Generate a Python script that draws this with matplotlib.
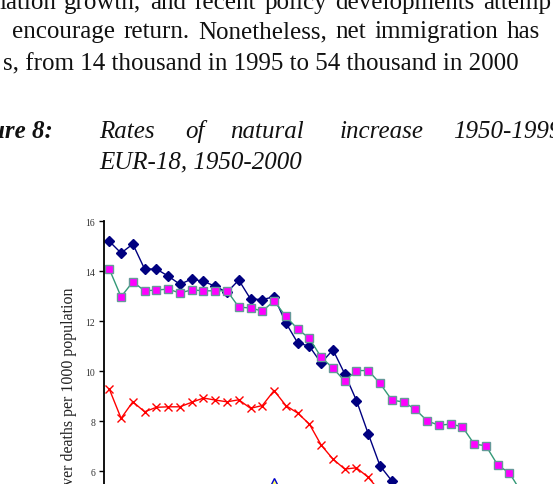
import matplotlib
matplotlib.use("Agg")
import matplotlib.pyplot as plt
import numpy as np

W, H = 553, 485

# rates per 1000 population (points below the crop are estimates)
years_navy = list(range(1950, 1976))
navy = [15.2, 14.73, 15.09, 14.09, 14.09, 13.81, 13.48, 13.69, 13.6, 13.4,
        13.16, 13.65, 12.89, 12.87, 12.98, 11.94, 11.14, 11.0, 10.33, 10.86,
        9.9, 8.83, 7.5, 6.22, 5.62, 4.9]

years_pink = list(range(1950, 1986))
pink = [14.09, 12.98, 13.58, 13.22, 13.25, 13.29, 13.13, 13.26, 13.22, 13.22,
        13.22, 12.57, 12.53, 12.41, 12.81, 12.2, 11.69, 11.32, 10.56, 10.13,
        9.61, 10.03, 10.03, 9.52, 8.85, 8.77, 8.48, 8.02, 7.84, 7.89,
        7.78, 7.09, 7.02, 6.25, 5.93, 5.17]

years_red = list(range(1950, 1974))
red = [9.29, 8.12, 8.78, 8.38, 8.56, 8.58, 8.58, 8.76, 8.93, 8.85,
       8.78, 8.86, 8.52, 8.63, 9.23, 8.63, 8.33, 7.89, 7.05, 6.49,
       6.09, 6.14, 5.76, 5.2]

years_tri = [1963, 1964, 1965, np.nan, 1987, 1988, 1989]
tri = [4.8, 5.53, 4.8, np.nan, 4.9, 5.45, 4.9]

y_ticks = [0, 2, 4, 6, 8, 10, 12, 14, 16]

plt.rcParams['font.family'] = ['Liberation Serif', 'DejaVu Serif']

fig = plt.figure(figsize=(W / 100, H / 100), dpi=100)
renderer = fig.canvas.get_renderer()

def fx(x):
    return x / W

def fy(y):
    return 1 - y / H

body = 18
ink = '#111111'

def justify(words, x_start, x_end, y, **kw):
    # place words so the line runs from x_start to x_end (like a justified paragraph)
    texts = [fig.text(0, fy(y), w, fontsize=body, color=ink, **kw) for w in words]
    widths = [t.get_window_extent(renderer).width for t in texts]
    gap = (x_end - x_start - sum(widths)) / (len(words) - 1)
    gap = max(gap, 0.25 * body * 100 / 72)
    x = x_start
    for t, w in zip(texts, widths):
        t.set_x(fx(x))
        x += w + gap

# running text at top of the page
justify("lation growth, and recent policy developments attemp".split(), -1, 551, 9)
justify("encourage return. Nonetheless, net immigration has".split(), 11.7, 540, 38.5)
fig.text(fx(3.3), fy(70), "s, from 14 thousand in 1995 to 54 thousand in 2000", fontsize=body, color=ink)

# caption
fig.text(fx(-9), fy(138.3), "ure 8:", fontsize=body, style='italic', weight='bold', color=ink)
for w, x in [("Rates", 99.3), ("of", 185), ("natural", 230), ("increase", 339.3), ("1950-1999", 453.3)]:
    fig.text(fx(x), fy(138.3), w, fontsize=body, style='italic', color=ink)
fig.text(fx(99.3), fy(168.3), "EUR-18, 1950-2000", fontsize=body, style='italic', color=ink)

# chart axes: 16 at y=222.3 px, 25 px per unit; 1950 at x=109.3 px, 11.77 px per year
y0, y1 = -4, 16
x0, x1 = 1949.575, 2000.5
left_px, top_px = 104.3, 222.3
wpx = (x1 - x0) * 11.77
hpx = (y1 - y0) * 25
ax = fig.add_axes([fx(left_px), fy(top_px + hpx), wpx / W, hpx / H])
ax.set_xlim(x0, x1)
ax.set_ylim(y0, y1)

ax.plot(years_navy, navy, color='#000080', lw=1.0, marker='D', ms=5,
        mfc='#000080', mec='#000080')
ax.plot(years_pink, pink, color='#339977', lw=1.0, marker='s', ms=6,
        mfc='#FF00FF', mec='#669999', mew=1.0)
ax.plot(years_red, red, color='#FF0000', lw=1.0, marker='x', ms=6, mew=1.0)
ax.plot(years_tri, tri, color='#000080', lw=1.0, marker='^', ms=7,
        mfc='#FFFF66', mec='#0000CC', mew=1.0)

for s in ['top', 'right', 'bottom']:
    ax.spines[s].set_visible(False)
ax.spines['left'].set_linewidth(1.3)
ax.set_xticks([])
ax.set_yticks(y_ticks)
ax.set_yticklabels([str(v) for v in y_ticks])
ax.tick_params(axis='y', direction='out', length=3.5, width=1.0, labelsize=7,
               labelcolor='#333333', pad=3)
ax.patch.set_alpha(0)

fig.text(fx(69), fy(287), "Births over deaths per 1000 population", rotation=90,
         ha='center', va='top', fontsize=11.5, color='#222222')

fig.savefig("out.png", dpi=100)
